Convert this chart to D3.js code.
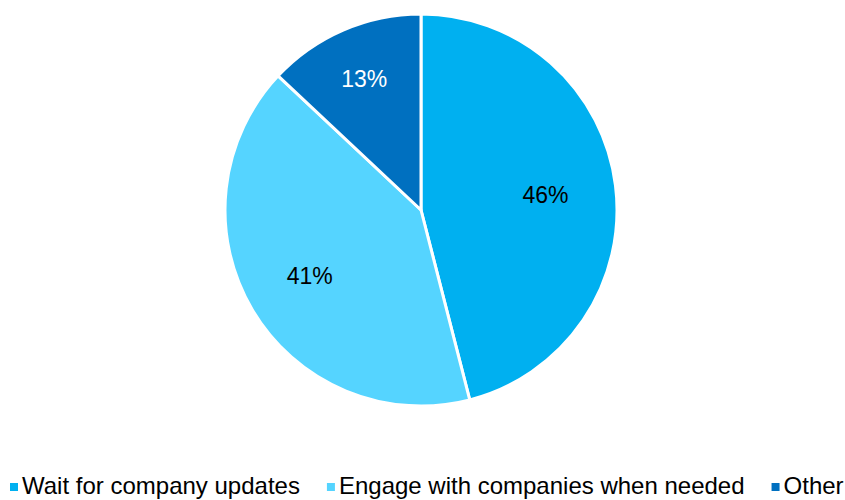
<!DOCTYPE html>
<html>
<head>
<meta charset="utf-8">
<script src="https://cdn.jsdelivr.net/npm/d3@7"></script>
<style>
  html, body { margin: 0; padding: 0; background: #fff; }
  svg { display: block; font-family: "Liberation Sans", Arial, sans-serif; }
</style>
</head>
<body>
<svg id="chart" width="845" height="500"></svg>
<script>
// Survey responses
const categories = ["Wait for company updates", "Engage with companies when needed", "Other"];
const shares = [46, 41, 13];

// Appearance
const sliceColors = ["#00B0F0", "#55D4FF", "#0070C0"];
const labelColors = ["#000000", "#000000", "#ffffff"];
const labelRadiusFrac = [0.64, 0.66, 0.73];

const W = 845, H = 500;
const cx = 421, cy = 210, R = 196;

const svg = d3.select("#chart");

const pie = d3.pie().sort(null).value(d => d.value);
const arcs = pie(categories.map((c, i) => ({ name: c, value: shares[i], i })));

const arc = d3.arc().innerRadius(0).outerRadius(R);

const g = svg.append("g").attr("transform", `translate(${cx},${cy})`);

g.selectAll("path.slice")
  .data(arcs)
  .join("path")
  .attr("class", "slice")
  .attr("d", arc)
  .attr("fill", d => sliceColors[d.data.i])
  .attr("stroke", "#fff")
  .attr("stroke-width", 3)
  .attr("stroke-linejoin", "round");

g.selectAll("text.pct")
  .data(arcs)
  .join("text")
  .attr("class", "pct")
  .attr("transform", d => {
    const r = R * labelRadiusFrac[d.data.i];
    const lab = d3.arc().innerRadius(r).outerRadius(r);
    const [x, y] = lab.centroid(d);
    return `translate(${x},${y})`;
  })
  .attr("text-anchor", "middle")
  .attr("dy", "0.36em")
  .attr("font-size", 23)
  .attr("fill", d => labelColors[d.data.i])
  .text(d => d.data.value + "%");

// Legend along the bottom
const legend = svg.append("g").attr("class", "legend");
const baseline = 494;
const fontSize = 24;
let x = 10;
categories.forEach((c, i) => {
  legend.append("rect")
    .attr("x", x).attr("y", baseline - 11)
    .attr("width", 8).attr("height", 8)
    .attr("fill", sliceColors[i]);
  const t = legend.append("text")
    .attr("x", x + 12).attr("y", baseline)
    .attr("font-size", fontSize)
    .attr("fill", "#000")
    .text(c);
  const w = t.node().getComputedTextLength();
  x = x + 12 + w + 27;
});
</script>
</body>
</html>
